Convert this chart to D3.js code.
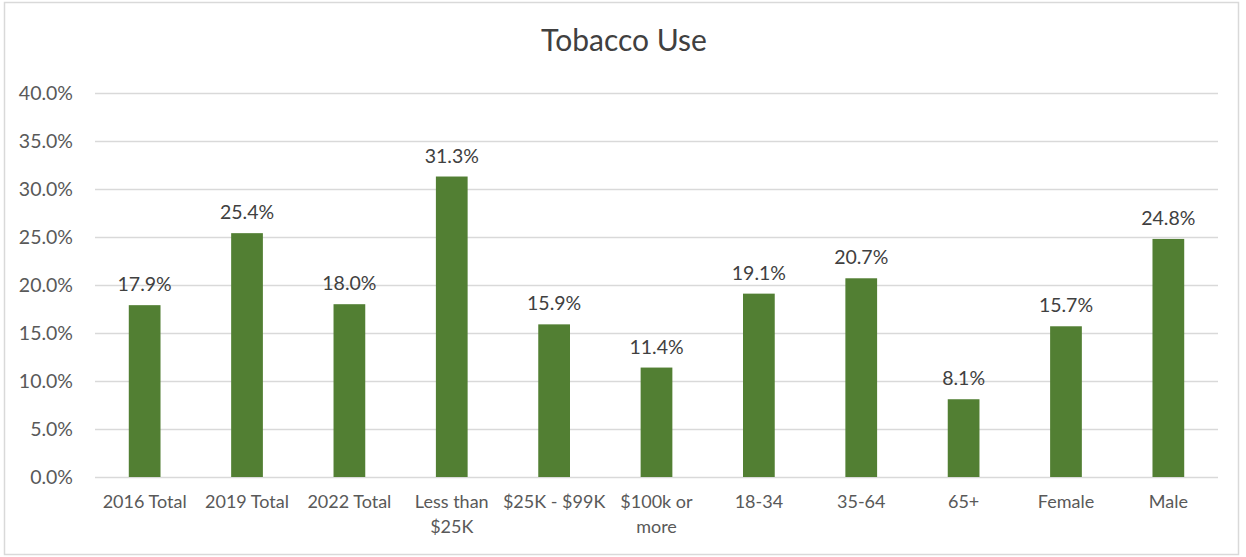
<!DOCTYPE html>
<html>
<head>
<meta charset="utf-8">
<script src="https://cdn.jsdelivr.net/npm/d3@7"></script>
<style>
  html, body { margin: 0; padding: 0; background: #fff; }
  svg { display: block; }
  text { font-family: Lato, "Open Sans", "Noto Sans", sans-serif; }
</style>
</head>
<body>
<svg id="chart" width="1246" height="557"></svg>
<script>
// Tobacco use by group (percent)
const categories = [
  ["2016 Total"], ["2019 Total"], ["2022 Total"], ["Less than", "$25K"],
  ["$25K - $99K"], ["$100k or", "more"], ["18-34"], ["35-64"], ["65+"],
  ["Female"], ["Male"]
];
const values = [17.9, 25.4, 18.0, 31.3, 15.9, 11.4, 19.1, 20.7, 8.1, 15.7, 24.8];
const yTicks = [0, 5, 10, 15, 20, 25, 30, 35, 40];
const title = "Tobacco Use";

const svg = d3.select("#chart");
const W = 1246, H = 557;
const margin = { left: 95, right: 28, top: 93, bottom: 80 };
const innerW = W - margin.left - margin.right;
const innerH = H - margin.top - margin.bottom;

// chart border
svg.append("rect")
  .attr("x", 4.5).attr("y", 2.5)
  .attr("width", 1234).attr("height", 552)
  .attr("fill", "#fff").attr("stroke", "#d9d9d9").attr("stroke-width", 1.5);

svg.append("text")
  .attr("x", 624).attr("y", 51)
  .attr("text-anchor", "middle")
  .attr("font-size", 30)
  .attr("fill", "#404040")
  .text(title);

const g = svg.append("g").attr("transform", `translate(${margin.left},${margin.top})`);

const x = d3.scaleBand()
  .domain(d3.range(categories.length))
  .range([0, innerW])
  .paddingInner(0.69)
  .paddingOuter(0.33);

const y = d3.scaleLinear().domain([0, 40]).range([innerH, 0]);

// gridlines + y labels
const yAxis = d3.axisLeft(y)
  .tickValues(yTicks)
  .tickSize(-innerW)
  .tickPadding(22)
  .tickFormat(d => d.toFixed(1) + "%");

const ya = g.append("g").call(yAxis);
ya.select(".domain").remove();
ya.selectAll(".tick line").attr("stroke", "#d9d9d9").attr("stroke-width", 1.5);
ya.selectAll(".tick text")
  .attr("font-size", 19.5).attr("fill", "#595959")
  .attr("font-family", "Lato, 'Open Sans', sans-serif");

// bars
g.selectAll("rect.bar")
  .data(values)
  .join("rect")
  .attr("class", "bar")
  .attr("x", (d, i) => x(i))
  .attr("y", d => y(d))
  .attr("width", x.bandwidth())
  .attr("height", d => innerH - y(d))
  .attr("fill", "#527f33");

// value labels
g.selectAll("text.val")
  .data(values)
  .join("text")
  .attr("class", "val")
  .attr("x", (d, i) => x(i) + x.bandwidth() / 2)
  .attr("y", d => y(d) - 14)
  .attr("text-anchor", "middle")
  .attr("font-size", 19.5)
  .attr("fill", "#404040")
  .text(d => d.toFixed(1) + "%");

// category labels
const xl = g.selectAll("text.cat")
  .data(categories)
  .join("text")
  .attr("class", "cat")
  .attr("x", (d, i) => x(i) + x.bandwidth() / 2)
  .attr("y", innerH + 31)
  .attr("text-anchor", "middle")
  .attr("font-size", 18)
  .attr("fill", "#595959");
xl.selectAll("tspan")
  .data(d => d)
  .join("tspan")
  .attr("x", function () { return d3.select(this.parentNode).attr("x"); })
  .attr("dy", (d, i) => i === 0 ? 0 : 25)
  .text(d => d);
</script>
</body>
</html>
